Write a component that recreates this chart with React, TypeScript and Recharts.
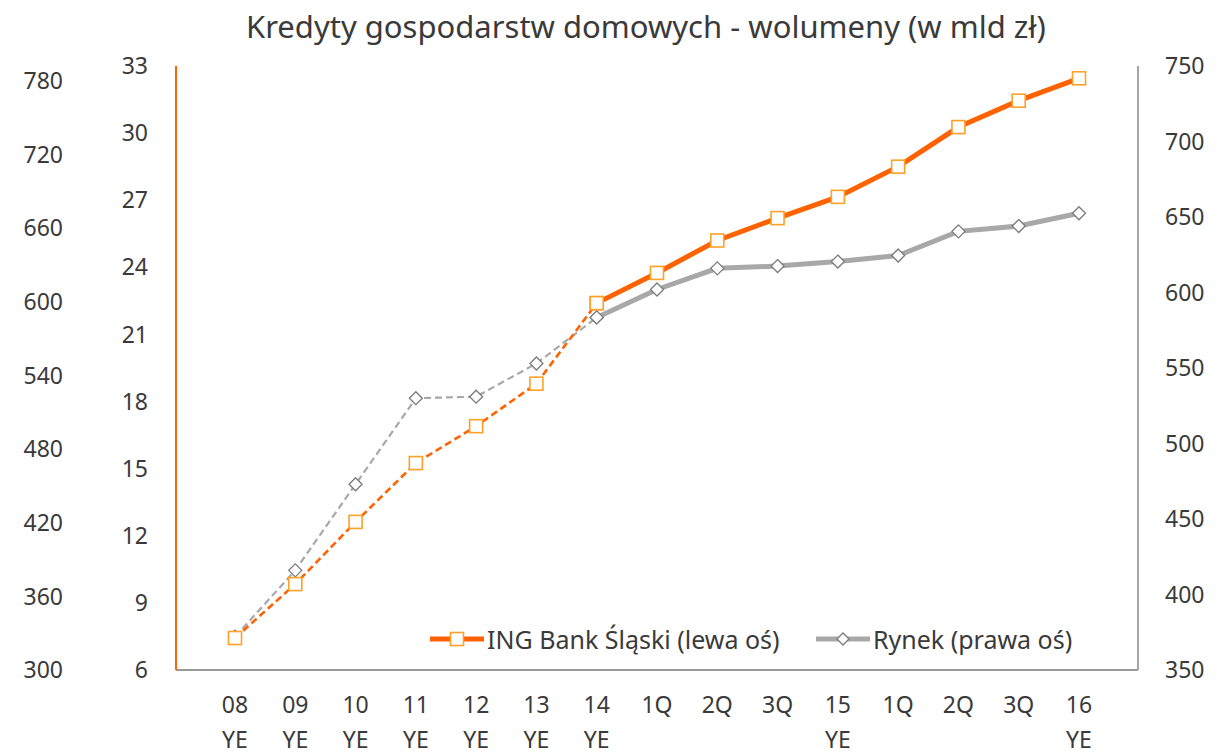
import { CartesianGrid, Legend, Line, LineChart, XAxis, YAxis } from 'recharts'

// category labels (two lines under the axis)
const periodTop = ['08', '09', '10', '11', '12', '13', '14', '1Q', '2Q', '3Q', '15', '1Q', '2Q', '3Q', '16']
const periodBottom = ['YE', 'YE', 'YE', 'YE', 'YE', 'YE', 'YE', '', '', '', 'YE', '', '', '', 'YE']

// ING Bank Śląski, bln PLN (left axis)
const ingValues = [7.43, 9.84, 12.62, 15.25, 16.9, 18.8, 22.4, 23.75, 25.2, 26.2, 27.15, 28.5, 30.27, 31.45, 32.45]
// market, bln PLN (right axis)
const marketValues = [372, 416, 473, 530, 531, 553, 583.5, 602, 616, 617.5, 620.5, 624.5, 640.5, 644, 652.5]

// annual points end at 14 YE (dashed), quarterly from there (solid)
const splitIndex = 6

const ingTicks = [6, 9, 12, 15, 18, 21, 24, 27, 30, 33]
const marketTicks = [350, 400, 450, 500, 550, 600, 650, 700, 750]
const outerTicks = [300, 360, 420, 480, 540, 600, 660, 720, 780]

const data = periodTop.map((p, i) => ({
  key: i,
  ingDash: i <= splitIndex ? ingValues[i] : null,
  ingSolid: i >= splitIndex ? ingValues[i] : null,
  mktDash: i <= splitIndex ? marketValues[i] : null,
  mktSolid: i >= splitIndex ? marketValues[i] : null,
}))

const ORANGE = '#FF6200'
const MARKER_ORANGE = '#FFA126'
const GREY = '#A8A8A8'
const MARKER_GREY = '#7A7A7A'
const TEXT = '#3a3a3a'
const FONT = '"Noto Sans", sans-serif'

const SquareDot = (props: any) => {
  const { cx, cy, index, payload } = props
  if (cx == null || cy == null || payload == null) return <g key={`s${index}`} />
  return <rect key={`s${index}`} x={cx - 6.5} y={cy - 6.5} width={13} height={13} fill="#fff" stroke={MARKER_ORANGE} strokeWidth={1.6} />
}

const DiamondDot = (props: any) => {
  const { cx, cy, index, payload } = props
  if (cx == null || cy == null || payload == null) return <g key={`d${index}`} />
  const r = 6.5
  return (
    <path
      key={`d${index}`}
      d={`M${cx},${cy - r}L${cx + r},${cy}L${cx},${cy + r}L${cx - r},${cy}Z`}
      fill="#fff"
      stroke={MARKER_GREY}
      strokeWidth={1.3}
    />
  )
}

const PeriodTick = (props: any) => {
  const { x, y, payload } = props
  const i = payload.index
  return (
    <g>
      <text x={x} y={y + 35} textAnchor="middle" fill={TEXT} fontSize={23} fontFamily={FONT}>
        {periodTop[i]}
      </text>
      <text x={x} y={y + 70} textAnchor="middle" fill={TEXT} fontSize={23} fontFamily={FONT}>
        {periodBottom[i]}
      </text>
    </g>
  )
}

const legendItems = [
  { label: 'ING Bank Śląski (lewa oś)', color: ORANGE, kind: 'square', width: 386 },
  { label: 'Rynek (prawa oś)', color: GREY, kind: 'diamond', width: 300 },
]

const ChartLegend = () => (
  <div style={{ display: 'flex', alignItems: 'center', fontFamily: FONT, fontSize: 25, color: TEXT }}>
    {legendItems.map((item) => (
      <div key={item.label} style={{ display: 'flex', alignItems: 'center', width: item.width }}>
        <svg width={54} height={20}>
          <line x1={0} y1={10} x2={54} y2={10} stroke={item.color} strokeWidth={5} />
          {item.kind === 'square' ? (
            <rect x={20.5} y={3.5} width={13} height={13} fill="#fff" stroke={MARKER_ORANGE} strokeWidth={1.6} />
          ) : (
            <path d="M27,4L33,10L27,16L21,10Z" fill="#fff" stroke={MARKER_GREY} strokeWidth={1.3} />
          )}
        </svg>
        <span style={{ marginLeft: 3, whiteSpace: 'nowrap' }}>{item.label}</span>
      </div>
    ))}
  </div>
)

export default function App() {
  return (
    <div style={{ position: 'absolute', left: 0, top: 0, width: 1218, height: 755, background: '#fff' }}>
      <div
        style={{
          position: 'absolute',
          left: 246,
          top: 5,
          fontFamily: FONT,
          fontSize: 31,
          color: TEXT,
          whiteSpace: 'nowrap',
          zIndex: 2,
        }}
      >
        Kredyty gospodarstw domowych - wolumeny (w mld zł)
      </div>
      <LineChart width={1218} height={755} data={data} margin={{ top: 66, right: 0, bottom: 0, left: 0 }}>
        <CartesianGrid vertical={false} horizontal={false} />
        <XAxis
          dataKey="key"
          type="category"
          scale="point"
          padding={{ left: 59, right: 59 }}
          height={85}
          tickLine={false}
          axisLine={{ stroke: '#9a9a9a', strokeWidth: 2 }}
          tick={<PeriodTick />}
          interval={0}
        />
        <YAxis
          yAxisId="ing"
          orientation="left"
          width={86}
          domain={[6, 33]}
          ticks={ingTicks}
          allowDataOverflow
          tickLine={false}
          tickSize={0}
          tickMargin={28}
          axisLine={{ stroke: ORANGE, strokeWidth: 2 }}
          tick={{ fill: TEXT, fontSize: 23, fontFamily: FONT }}
        />
        <YAxis
          yAxisId="outer"
          orientation="left"
          width={90}
          type="number"
          domain={[300, 792]}
          ticks={outerTicks}
          allowDataOverflow
          tickLine={false}
          tickSize={0}
          tickMargin={27}
          axisLine={false}
          tick={{ fill: TEXT, fontSize: 23, fontFamily: FONT }}
        />
        <YAxis
          yAxisId="rynek"
          orientation="right"
          width={80}
          domain={[350, 750]}
          ticks={marketTicks}
          allowDataOverflow
          tickLine={false}
          tickSize={0}
          tickMargin={27}
          axisLine={{ stroke: '#a6a6a6', strokeWidth: 2 }}
          tick={{ fill: TEXT, fontSize: 23, fontFamily: FONT, textAnchor: 'start' }}
        />
        <Legend
          layout="horizontal"
          verticalAlign="middle"
          align="center"
          wrapperStyle={{ left: 430, top: 622, width: 720 }}
          content={<ChartLegend />}
        />
        <Line
          yAxisId="rynek"
          dataKey="mktDash"
          stroke={GREY}
          strokeWidth={2.2}
          strokeDasharray="7 4"
          dot={<DiamondDot />}
          connectNulls={false}
          isAnimationActive={false}
        />
        <Line
          yAxisId="ing"
          dataKey="ingDash"
          stroke={ORANGE}
          strokeWidth={2.6}
          strokeDasharray="7 4"
          dot={<SquareDot />}
          connectNulls={false}
          isAnimationActive={false}
        />
        <Line
          yAxisId="rynek"
          dataKey="mktSolid"
          stroke={GREY}
          strokeWidth={5}
          dot={<DiamondDot />}
          connectNulls={false}
          isAnimationActive={false}
        />
        <Line
          yAxisId="ing"
          dataKey="ingSolid"
          stroke={ORANGE}
          strokeWidth={5}
          dot={<SquareDot />}
          connectNulls={false}
          isAnimationActive={false}
        />
      </LineChart>
    </div>
  )
}
